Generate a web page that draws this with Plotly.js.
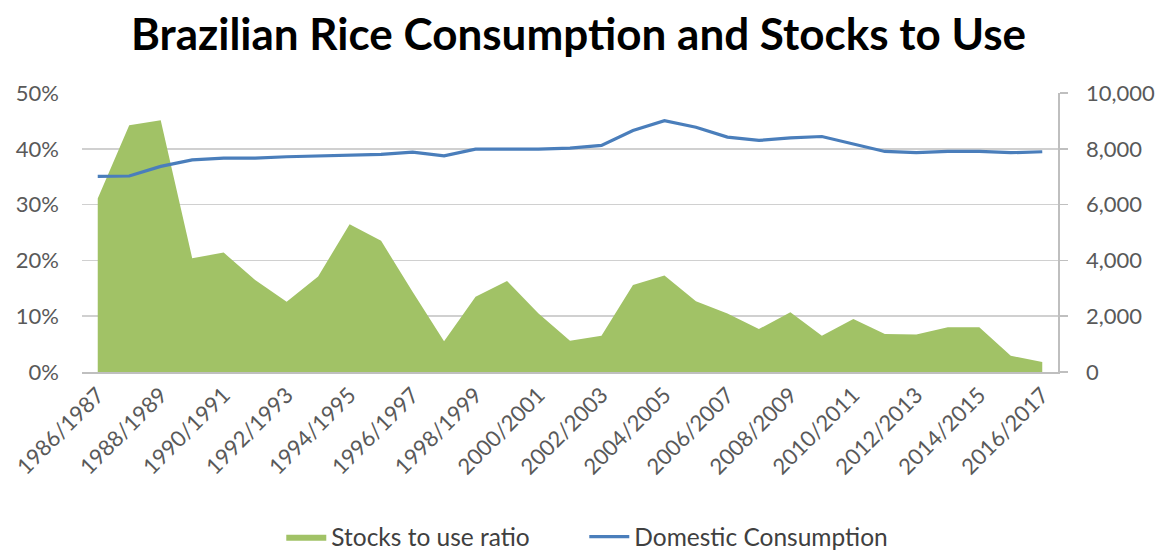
<!DOCTYPE html>
<html>
<head>
<meta charset="utf-8">
<script src="https://cdn.plot.ly/plotly-3.0.1.min.js"></script>
<style>html,body{margin:0;padding:0;background:#fff}#chart{width:1157px;height:550px}</style>
</head>
<body>
<div id="chart"></div>
<script>
const seasons = ["1986/1987","1987/1988","1988/1989","1989/1990","1990/1991","1991/1992","1992/1993","1993/1994","1994/1995","1995/1996","1996/1997","1997/1998","1998/1999","1999/2000","2000/2001","2001/2002","2002/2003","2003/2004","2004/2005","2005/2006","2006/2007","2007/2008","2008/2009","2009/2010","2010/2011","2011/2012","2012/2013","2013/2014","2014/2015","2015/2016","2016/2017"];
const stocksToUse = [0.311,0.442,0.451,0.204,0.214,0.165,0.126,0.171,0.265,0.235,0.144,0.055,0.135,0.163,0.105,0.056,0.065,0.156,0.173,0.127,0.105,0.077,0.107,0.065,0.095,0.068,0.067,0.080,0.080,0.029,0.018];
const consumption = [7010,7025,7370,7600,7665,7665,7715,7750,7765,7800,7880,7750,7990,7990,7990,8025,8120,8655,9010,8775,8420,8300,8390,8440,8180,7905,7860,7905,7905,7860,7895];
const tickSeasons = seasons.filter((s,i)=>i%2===0);

const traces = [
  {
    x: seasons, y: stocksToUse, name: "Stocks to use ratio",
    type: "scatter", mode: "lines", fill: "tozeroy",
    line: {width: 0, color: "#9BBB59"},
    fillcolor: "#A1C266",
    yaxis: "y"
  },
  {
    x: seasons, y: consumption, name: "Domestic Consumption",
    type: "scatter", mode: "lines",
    line: {width: 3.2, color: "#4A7EBB"},
    yaxis: "y2"
  }
];

const fam = "Lato, 'Open Sans', sans-serif";
const tickFont = {family: fam, size: 22, color: "#595959"};

const layout = {
  width: 1157, height: 550,
  paper_bgcolor: "#fff", plot_bgcolor: "#fff",
  margin: {l: 82, r: 99, t: 93, b: 178},
  title: {text: "<b>Brazilian Rice Consumption and Stocks to Use</b>", x: 0.5, xanchor: "center", y: 0.937, yanchor: "middle",
          font: {family: fam, size: 44, color: "#000"}},
  showlegend: true,
  legend: {orientation: "h", xref: "container", yref: "container", x: 0.505, xanchor: "center", y: 0.024, yanchor: "middle",
           font: {family: fam, size: 24.5, color: "#404040"}, tracegroupgap: 0,
           entrywidth: 248, entrywidthmode: "pixels", itemwidth: 40},
  xaxis: {
    type: "category", tickmode: "array", tickvals: tickSeasons, ticktext: tickSeasons,
    tickangle: -45, tickfont: tickFont, showgrid: false, automargin: false,
    showline: true, linecolor: "#BFBFBF", linewidth: 1.5, ticks: "", zeroline: false,
    range: [-0.5, seasons.length - 0.5]
  },
  yaxis: {
    range: [0, 0.5], tickvals: [0,0.1,0.2,0.3,0.4,0.5], tickformat: ".0%", automargin: false,
    tickfont: tickFont, gridcolor: "#D0D0D0", gridwidth: 1.5, showline: false, zeroline: false, ticks: "",
    ticklabelstandoff: 22
  },
  yaxis2: {
    range: [0, 10000], tickvals: [0,2000,4000,6000,8000,10000], tickformat: ",d", automargin: false,
    overlaying: "y", side: "right", tickfont: tickFont, showgrid: false,
    showline: true, linecolor: "#BFBFBF", linewidth: 1.5, ticks: "outside", ticklen: 8, tickcolor: "#BFBFBF", tickwidth: 1.5,
    zeroline: false, ticklabelstandoff: 14
  }
};

Plotly.newPlot("chart", traces, layout, {displayModeBar: false, staticPlot: true});
</script>
</body>
</html>
